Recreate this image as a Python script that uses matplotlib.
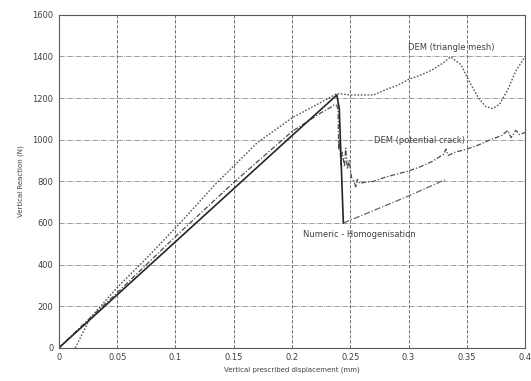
import matplotlib
matplotlib.use("Agg")
import matplotlib.pyplot as plt

# ============================================================
# DATA
# ============================================================

# Numeric - Homogenisation
homog_x = [0.0, 0.10, 0.20, 0.2385, 0.2395, 0.2405, 0.2440]
homog_y = [0.0, 510, 1020, 1215, 1180, 1150, 600]

# post-peak branch of homogenisation
homog_post_x = [0.2440, 0.27, 0.30, 0.333]
homog_post_y = [600, 660, 730, 812]

# DEM (potential crack)
crack_x = [0.0, 0.025, 0.05, 0.10, 0.15, 0.20, 0.225, 0.233, 0.2365, 0.2385,
           0.2395, 0.2400, 0.2405, 0.2420, 0.2430, 0.2450, 0.2460, 0.2475,
           0.2490, 0.2510, 0.2530, 0.2550, 0.2560, 0.2580, 0.2620, 0.27,
           0.28, 0.29, 0.30, 0.31, 0.32, 0.33, 0.332, 0.334, 0.34, 0.35,
           0.36, 0.37, 0.38, 0.385, 0.388, 0.392, 0.395, 0.40]
crack_y = [0, 135, 265, 535, 795, 1040, 1130, 1155, 1170, 1165,
           1140, 950, 1000, 880, 940, 870, 960, 860,
           900, 820, 800, 770, 810, 790, 795, 800,
           820, 835, 850, 870, 895, 930, 955, 925, 940, 955,
           975, 1000, 1020, 1045, 1010, 1045, 1025, 1035]

# DEM (triangle mesh)
tri_x = [0.014, 0.027, 0.05, 0.075, 0.104, 0.134, 0.17, 0.20, 0.225, 0.2386,
         0.25, 0.27, 0.28, 0.29, 0.30, 0.31, 0.32, 0.33, 0.336, 0.345,
         0.352, 0.36, 0.366, 0.372, 0.378, 0.385, 0.392, 0.40]
tri_y = [0, 145, 290, 430, 600, 785, 985, 1105, 1180, 1222,
         1215, 1215, 1240, 1260, 1290, 1310, 1335, 1370, 1398, 1360,
         1280, 1200, 1160, 1150, 1170, 1240, 1330, 1400]

x_ticks = [0, 0.05, 0.1, 0.15, 0.2, 0.25, 0.3, 0.35, 0.4]
x_labels = ["0", "0.05", "0.1", "0.15", "0.2", "0.25", "0.3", "0.35", "0.4"]
y_ticks = [0, 200, 400, 600, 800, 1000, 1200, 1400, 1600]

# ============================================================
# FIGURE
# ============================================================

fig = plt.figure(figsize=(5.31, 3.81), dpi=100)
ax = fig.add_axes([0.111, 0.087, 0.878, 0.874])

ax.plot(tri_x, tri_y, color="0.35", linestyle=(0, (1.2, 1.2)), linewidth=1.0)
ax.plot(crack_x, crack_y, color="0.3", linestyle=(0, (4, 1.5, 1, 1.5)), linewidth=0.9)
ax.plot(homog_post_x, homog_post_y, color="0.4", linestyle=(0, (5, 1.5, 1, 1.5)), linewidth=0.9)
ax.plot(homog_x, homog_y, color="0.15", linewidth=1.2)

ax.text(0.2995, 1445, "DEM (triangle mesh)", fontsize=6, color="0.25", va="center")
ax.text(0.270, 995, "DEM (potential crack)", fontsize=6, color="0.25", va="center")
ax.text(0.2095, 543, "Numeric - Homogenisation", fontsize=6, color="0.25", va="center")

ax.set_xlim(0, 0.4)
ax.set_ylim(0, 1600)
ax.set_xticks(x_ticks)
ax.set_xticklabels(x_labels)
ax.set_yticks(y_ticks)
ax.tick_params(length=0, labelsize=6, colors="0.25", pad=4)

ax.xaxis.grid(True, color="0.35", linestyle=(0, (4, 2)), linewidth=0.6)
ax.yaxis.grid(True, color="0.55", linestyle=(0, (6, 1.5, 1, 1.5)), linewidth=0.6)

for s in ax.spines.values():
    s.set_color("0.35")
    s.set_linewidth(0.8)

ax.set_xlabel("Vertical prescribed displacement (mm)", fontsize=5, color="0.25", labelpad=3)
ax.set_ylabel("Vertical Reaction (N)", fontsize=5, color="0.25", labelpad=6)

fig.savefig("out.png", dpi=100)
